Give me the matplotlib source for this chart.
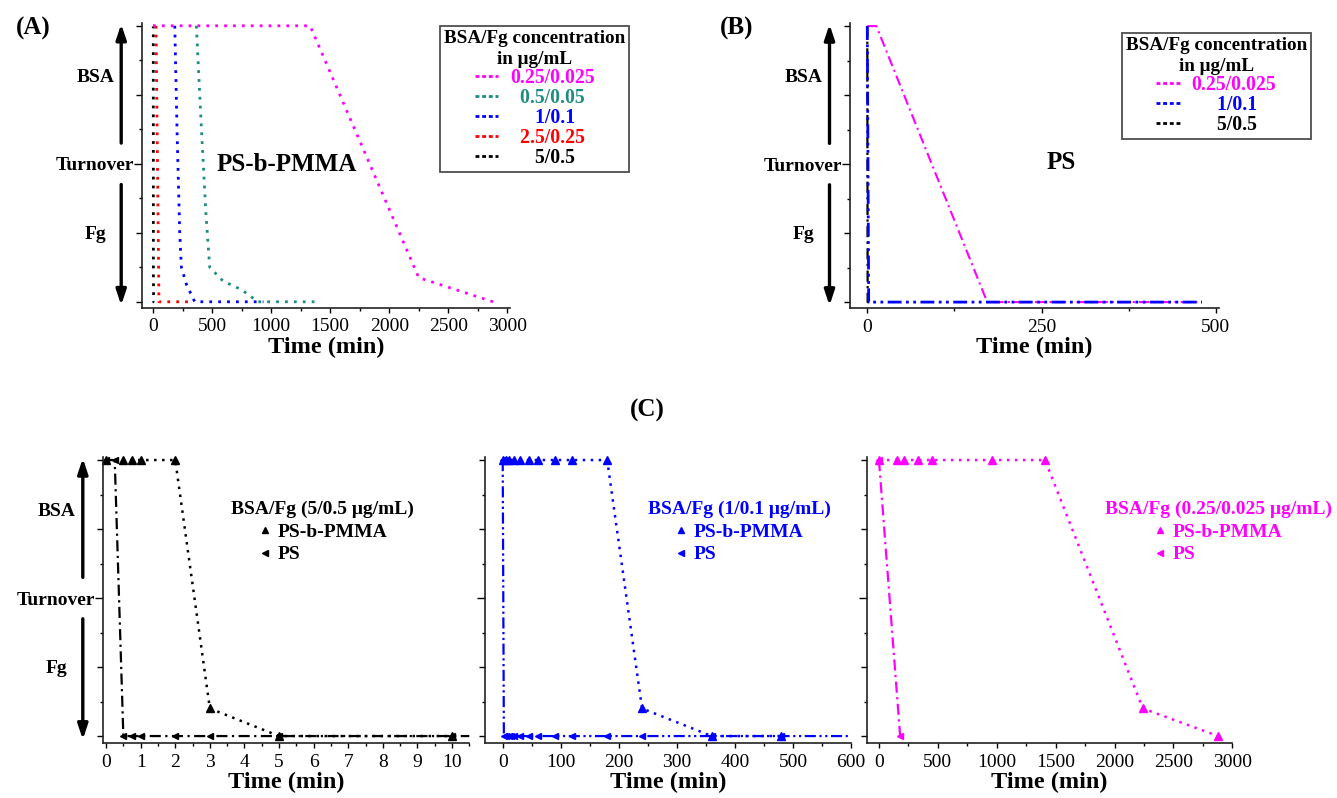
import matplotlib
matplotlib.use("Agg")
import matplotlib.pyplot as plt
from matplotlib.lines import Line2D
from matplotlib.ticker import MultipleLocator, FixedLocator, FixedFormatter
from matplotlib.transforms import ScaledTranslation

plt.rcParams.update({
    "font.family": ["Liberation Serif", "DejaVu Serif"],
    "font.size": 13.5,
    "axes.spines.top": False,
    "axes.spines.right": False,
    "axes.linewidth": 1.2,
    "axes.edgecolor": "#222222",
    "xtick.direction": "out",
    "ytick.direction": "out",
})

MAGENTA = "#FF00FF"
TEAL = "#1E8C80"
BLUE = "#0000FF"
RED = "#FF0000"
BLACK = "#000000"

# ── data: panel A (PS-b-PMMA), y: 8 = BSA, 4 = turnover, 0 = Fg ──────────────
A_MAG_T = [0, 1330, 2250, 2880]
A_MAG_Y = [8, 8, 0.7, 0]
A_TEAL_T = [367, 410, 447, 480, 593, 750, 890, 1400]
A_TEAL_Y = [8, 5, 2.6, 1.0, 0.6, 0.35, 0, 0]
A_BLUE_T = [184, 203, 226, 240, 283, 325, 353, 935]
A_BLUE_Y = [8, 5, 2, 1.0, 0.5, 0.2, 0, 0]
A_RED_T = [25, 50, 300]
A_RED_Y = [8, 0, 0]
A_BLACK_T = [0, 2, 3, 5, 10]
A_BLACK_Y = [8, 8, 0.8, 0, 0]
A_LEGEND = ["0.25/0.025", "  0.5/0.05", "     1/0.1", "  2.5/0.25", "     5/0.5"]

# ── data: panel B (PS) ────────────────────────────────────────────────────────
B_MAG_T = [0, 13, 172, 480]
B_MAG_Y = [8, 8, 0, 0]
B_BLUE_T = [0, 2, 480]
B_BLUE_Y = [8, 0, 0]
B_BLACK_T = [0, 0.5, 10]
B_BLACK_Y = [8, 0, 0]
B_LEGEND = ["0.25/0.025", "     1/0.1", "     5/0.5"]

# ── data: panel C ─────────────────────────────────────────────────────────────
C1_PMMA_T = [0, 0.5, 0.75, 1, 2, 3, 5, 10]
C1_PMMA_Y = [8, 8, 8, 8, 8, 0.8, 0, 0]
C1_PS_T = [0, 0.25, 0.5, 0.75, 1, 2, 3, 5, 10, 10.5]
C1_PS_Y = [8, 8, 0, 0, 0, 0, 0, 0, 0, 0]

C2_PMMA_T = [0, 5, 10, 20, 30, 45, 60, 90, 120, 180, 240, 360, 480]
C2_PMMA_Y = [8, 8, 8, 8, 8, 8, 8, 8, 8, 8, 0.8, 0, 0]
C2_PS_T = [0, 2, 5, 10, 15, 20, 30, 45, 60, 90, 120, 180, 240, 360, 480, 600]
C2_PS_Y = [8, 0, 0, 0, 0, 0, 0, 0, 0, 0, 0, 0, 0, 0, 0, 0]

C3_PMMA_T = [0, 150, 210, 330, 450, 960, 1410, 2240, 2880]
C3_PMMA_Y = [8, 8, 8, 8, 8, 8, 8, 0.8, 0]
C3_PS_T = [0, 180]
C3_PS_Y = [8, 0]

DOT = (0, (1, 2.2))
DASH_DOT = (0, (5, 2, 1, 2))
DASH_DOT_DOT = (0, (5, 1.6, 1, 1.6, 1, 1.6))
KEY_DASH = (0, (1.4, 1.0))

W, H = 1337, 798
fig = plt.figure(figsize=(W / 100, H / 100), dpi=100)


def px_axes(left, right, bottom, ylim, unit=34.5):
    top = bottom - (ylim[1] - ylim[0]) * unit
    return fig.add_axes([left / W, 1 - bottom / H, (right - left) / W, (bottom - top) / H])


def style_y(ax, with_labels=True):
    ax.yaxis.set_major_locator(FixedLocator([0, 2, 4, 6, 8]))
    ax.yaxis.set_minor_locator(FixedLocator([1, 3, 5, 7]))
    labels = ["", "", "Turnover", "", ""] if with_labels else [""] * 5
    ax.yaxis.set_major_formatter(FixedFormatter(labels))
    ax.tick_params(axis="y", which="major", length=4, width=1.0, pad=1.5,
                   labelsize=14)
    ax.tick_params(axis="y", which="minor", length=2.3, width=1.0)
    for lbl in ax.get_yticklabels():
        lbl.set_fontweight("bold")
    ax.yaxis.get_major_ticks()[2].tick1line.set_markersize(6)
    if not with_labels:
        return
    # BSA / Fg labels and arrows left of the axis
    trans = ax.get_yaxis_transform()
    t_lab = trans + ScaledTranslation(-0.465, 0, fig.dpi_scale_trans)
    t_arr = trans + ScaledTranslation(-0.205, 0, fig.dpi_scale_trans)
    ax.text(0, 6.5, "BSA", transform=t_lab, ha="center", va="center",
            fontsize=14, fontweight="bold", clip_on=False)
    ax.text(0, 1.95, "Fg", transform=t_lab, ha="center", va="center",
            fontsize=14, fontweight="bold", clip_on=False)
    for y0, y1 in [(4.6, 8.05), (3.4, -0.1)]:
        ax.annotate("", xy=(0, y1), xytext=(0, y0), xycoords=t_arr,
                    textcoords=t_arr, annotation_clip=False,
                    arrowprops=dict(arrowstyle="-|>,head_length=0.45,head_width=0.15",
                                    lw=2.4, color="black", shrinkA=0, shrinkB=0,
                                    mutation_scale=20))


def style_x(ax, major, minor, xlim):
    ax.set_xlim(*xlim)
    ax.xaxis.set_major_locator(MultipleLocator(major))
    ax.xaxis.set_minor_locator(MultipleLocator(minor))
    ax.tick_params(axis="x", which="major", length=3.5, width=1.0, pad=4,
                   labelsize=14)
    ax.tick_params(axis="x", which="minor", length=2, width=1.0)
    ax.set_xlabel("Time (min)", fontsize=17.5, fontweight="bold", labelpad=1)


def conc_legend(ax, handles, labels, anchor):
    leg = ax.legend(handles, labels, loc="upper left", bbox_to_anchor=anchor,
                    frameon=True, fancybox=False, edgecolor="#222222",
                    borderpad=0.2, borderaxespad=0, handlelength=1.2,
                    handletextpad=0.6, labelspacing=0.0,
                    prop={"weight": "bold", "size": 14.2},
                    title="BSA/Fg concentration\nin \u03bcg/mL",
                    title_fontproperties={"weight": "bold", "size": 13.8})
    leg.get_frame().set_linewidth(1.3)
    leg.get_title().set_multialignment("center")
    leg.get_title().set_linespacing(1.3)
    for txt, h in zip(leg.get_texts(), handles):
        txt.set_color(h.get_color())
    return leg


YLIM = (-0.18, 8.08)

# ── (A) ───────────────────────────────────────────────────────────────────────
axA = px_axes(141.7, 510, 308, YLIM)
axA.set_ylim(*YLIM)
a_series = [
    (A_BLACK_T, A_BLACK_Y, BLACK),
    (A_RED_T, A_RED_Y, RED),
    (A_BLUE_T, A_BLUE_Y, BLUE),
    (A_TEAL_T, A_TEAL_Y, TEAL),
    (A_MAG_T, A_MAG_Y, MAGENTA),
]
for t, y, c in a_series:
    axA.plot(t, y, color=c, lw=2.0, ls=DOT, clip_on=False)
style_x(axA, 500, 250, (-96, 3023))
style_y(axA)
axA.text(0.395, 0.505, "PS-b-PMMA", transform=axA.transAxes, ha="center",
         va="center", fontsize=18, fontweight="bold")
hA = [Line2D([], [], color=c, lw=2, ls=KEY_DASH) for c in
      [MAGENTA, TEAL, BLUE, RED, BLACK]]
conc_legend(axA, hA, A_LEGEND, (0.81, 0.99))

# ── (B) ───────────────────────────────────────────────────────────────────────
axB = px_axes(850, 1219.4, 308.3, YLIM)
axB.set_ylim(*YLIM)
axB.plot(B_BLACK_T, B_BLACK_Y, color=BLACK, lw=1.6, ls=DASH_DOT, clip_on=False)
axB.plot(B_MAG_T, B_MAG_Y, color=MAGENTA, lw=1.5, ls=DASH_DOT, clip_on=False)
axB.plot(B_BLUE_T, B_BLUE_Y, color=BLUE, lw=2.0, ls=DASH_DOT_DOT, clip_on=False)
style_x(axB, 250, 125, (-24.8, 505))
style_y(axB)
axB.text(0.571, 0.512, "PS", transform=axB.transAxes, ha="center",
         va="center", fontsize=18, fontweight="bold")
hB = [Line2D([], [], color=c, lw=2, ls=KEY_DASH) for c in
      [MAGENTA, BLUE, BLACK]]
conc_legend(axB, hB, B_LEGEND, (0.7355, 0.965))

# ── (C) ───────────────────────────────────────────────────────────────────────
YLIM_C = (-0.21, 8.08)
c_panels = [
    (103.3, 469.3, C1_PMMA_T, C1_PMMA_Y, C1_PS_T, C1_PS_Y, BLACK, DASH_DOT,
     (1, 0.5, (-0.08, 10.5)), "BSA/Fg (5/0.5 \u03bcg/mL)", 0.60, True),
    (485, 851, C2_PMMA_T, C2_PMMA_Y, C2_PS_T, C2_PS_Y, BLUE, DASH_DOT_DOT,
     (100, 50, (-30.5, 600)), "BSA/Fg (1/0.1 \u03bcg/mL)", 0.694, False),
    (866.7, 1232.3, C3_PMMA_T, C3_PMMA_Y, C3_PS_T, C3_PS_Y, MAGENTA, DASH_DOT,
     (500, 250, (-104, 3000)), "BSA/Fg (0.25/0.025 \u03bcg/mL)", 0.961, False),
]
for (left, right, pt, py, st, sy, col, ps_ls, xs, title, lx, ylab) in c_panels:
    ax = px_axes(left, right, 743.3, YLIM_C)
    ax.set_ylim(*YLIM_C)
    # last PS point only marks where the line runs off the axis: no marker there
    last = len(st) - 1 if st[-1] >= xs[2][1] else len(st)
    ax.plot(st, sy, color=col, lw=1.6, ls=ps_ls, marker="<", ms=5,
            markevery=slice(0, last), clip_on=False)
    ax.plot(pt, py, color=col, lw=1.8, ls=DOT, marker="^", ms=5.5,
            clip_on=False)
    style_x(ax, *xs)
    style_y(ax, with_labels=ylab)
    hc = [Line2D([], [], color=col, ls="none", marker="^", ms=5),
          Line2D([], [], color=col, ls="none", marker="<", ms=5)]
    leg = ax.legend(hc, ["PS-b-PMMA", "PS"], loc="upper center",
                    bbox_to_anchor=(lx, 0.847), frameon=False, borderpad=0,
                    borderaxespad=0, handlelength=0.6, handletextpad=0.35,
                    labelspacing=0.25, labelcolor=col,
                    prop={"weight": "bold", "size": 14},
                    title=title,
                    title_fontproperties={"weight": "bold", "size": 14})
    leg.get_title().set_color(col)
    leg.set_clip_on(False)

# panel letters
fig.text(33 / W, 1 - 28 / H, "(A)", ha="center", va="center", fontsize=18,
         fontweight="bold")
fig.text(737 / W, 1 - 28 / H, "(B)", ha="center", va="center", fontsize=18,
         fontweight="bold")
fig.text(647 / W, 1 - 410 / H, "(C)", ha="center", va="center", fontsize=18,
         fontweight="bold")

fig.savefig("out.png", dpi=100)
